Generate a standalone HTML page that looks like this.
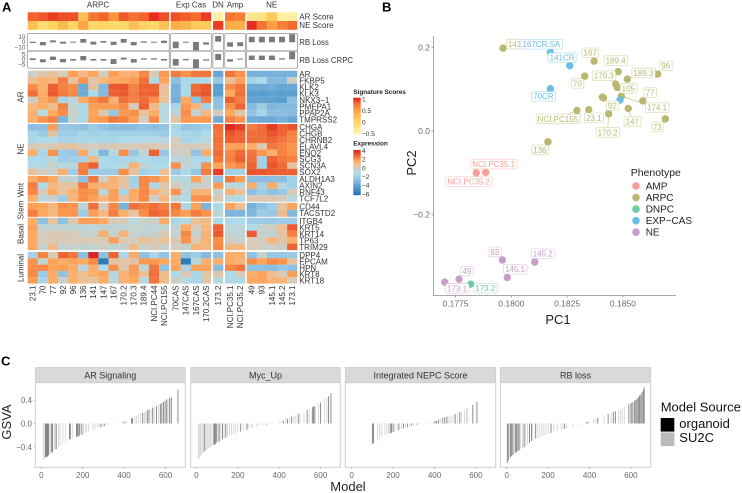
<!DOCTYPE html>
<html lang="en">
<head>
<meta charset="utf-8">
<title>Prostate cancer model signature figure</title>
<style>
html,body{margin:0;padding:0;background:#fff;}
svg{display:block;}
text{font-family:"Liberation Sans",sans-serif;}
</style>
</head>
<body>
<svg id="fig" xmlns="http://www.w3.org/2000/svg" width="742" height="493" viewBox="0 0 742 493">
<rect width="742" height="493" fill="#fff"/>
<text x="2" y="11.5" font-size="13" font-weight="bold" fill="#000">A</text>
<text x="382" y="11.5" font-size="13" font-weight="bold" fill="#000">B</text>
<text x="1" y="365.5" font-size="13" font-weight="bold" fill="#000">C</text>
</svg>
<script>
// ---------- Panel A data ----------
const sampleNames = ['23.1','70','77','92','96','136','141','147','167','170.2','170.3','189.4','NCI.PC44','NCI.PC155','70CAS','147CAS','167CAS','170.2CAS','173.2','NCI.PC35.1','NCI.PC35.2','49','93','145.1','145.2','173.1'];
const arScore = [.78,.83,.9,.85,.85,.2,.7,.78,.55,.83,.73,.78,.95,.85,.85,.8,.75,.9,-.4,.7,.65,-.25,-.2,.1,-.4,-.4];
const neScore = [.2,-.1,0,.25,0,.45,-.05,0,-.05,-.05,.2,.05,-.05,.2,.4,.3,.1,.1,.9,.4,.35,.95,.7,.5,.65,.75];
const rbLossHigh = [.6,0,3.2,.6,.6,5.8,.6,1.9,.6,5.8,0,1.3,.6,2.6,.6,.6,0,-.6,11.5,-.6,-.6,10,10,10,10,15];
const rbLossLow = [-1.9,-6.4,-.6,-3.2,-1.3,-1.3,-5,-1.3,-5.8,-1.3,-6.4,-1.3,-1.3,-1.9,-12,-1.3,-16,-5,.6,-9,-8,-.6,-.6,-.6,-.6,-.6];
const rbCrpcHigh = [1,0,2.7,.3,.3,3.3,.3,.3,.3,1.7,.3,1,1,.3,.3,.3,0,0,5.3,0,.7,3.7,3.7,3.7,1,7.7];
const rbCrpcLow = [-.7,-3,-.7,-3,-1.3,-1,-1.3,-1.3,-4.7,-.3,-3.3,-.3,-.3,-1.3,-6.3,-1,-9,-1.3,-.7,-2.3,-.3,-.7,-.7,-.7,-.3,0];
const geneGroups = ['AR','NE','Wnt','Stem','Basal','Luminal'];
const genesAR = ['AR','FKBP5','KLK2','KLK3','NKX3\u22121','PMEPA1','PPAP2A','TMPRSS2'];
const genesNE = ['CHGA','CHGB','CHRNB2','ELAVL4','ENO2','SCG3','SCN3A','SOX2'];
const genesWnt = ['ALDH1A3','AXIN2','RNF43','TCF7L2'];
const genesStem = ['CD44','TACSTD2'];
const genesBasal = ['ITGB4','KRT5','KRT14','TP63','TRIM29'];
const genesLuminal = ['DPP4','EPCAM','HPN','KRT8','KRT18'];
const exprAR = [
[-.3,.3,.6,0,1.7,.9,1.6,0,1.7,1.2,1.2,2.1,.1,1.8,2.3,1.9,2.4,2.4,-3.6,2.4,1.9,-3.2,-3.2,-3.2,-3.2,-3.2],
[.7,1.3,1,2.3,.5,1.9,.3,1.1,1.4,1.6,1.8,2.5,-1.4,1.6,-2.6,-1.4,-1.4,-1.3,-2.2,.6,1.6,-1.7,-1.2,-2.8,-2.8,-.1],
[2,1.3,2.8,2.2,2,-3.5,.6,-2.8,2.9,3,2.2,2.7,2.7,.5,-3.2,-1.4,2.6,2.9,-4,2,2.4,-3.5,-3.5,-3.3,-3.6,-3.6],
[2.5,1.4,2.9,2.3,2.1,-3.5,-1.3,-2.8,2.8,2.9,2.3,2.7,2.8,.6,-3.2,-1.4,2.7,3,-4,1.5,2.5,-4,-4,-3.8,-4,-4],
[-.1,1.5,1.8,-1.6,-.8,1.4,2,2.4,1.2,2.5,2.2,2.5,2,.5,-3.3,1.5,-2.5,2.3,-2.5,2.8,2.3,-3.8,-3.8,-3.8,-4,-2.6],
[1,1.4,.7,2.2,-.5,-1.4,1.7,1.7,1.7,2,0,2.8,.8,-.9,-1.6,1.8,1.1,-1.7,-2.5,2,2.7,-2.8,-2,-3,-2.8,-2.8],
[1.2,-1.2,1.5,2,-.2,-1.4,1.6,.3,-2.2,1.8,2,.5,1.4,-1,-.5,2,-.5,1,0,1.5,.3,-2.3,-1.5,-2.6,-2.6,-2.7],
[1.3,1.9,2.2,-3,-.5,-1.4,1.7,1.8,2.4,2.2,1.7,0,2.1,-1,.4,1.8,1.8,1.8,-3.5,2.2,1.9,-3.5,-3.5,-3.5,-3.2,-3.7]];
const exprNE = [
[-2.6,-2.6,1.7,-2.2,-2.2,-2.4,-2,-2.4,-2.7,-2.7,-2.7,-2.4,-2.6,-2.3,-1.5,-2.3,-2.2,-1.9,2.5,3.7,3.3,2.3,2.6,3.4,2.7,3],
[-1.6,-2,.4,-1.9,-1.9,-1.6,-1.8,-1.7,-1.8,-1.8,-1.8,-1.8,-1.8,-2,-1.4,-1.5,-1.8,-1.3,2.4,3,2.7,2.5,2.6,3,2.7,2.2],
[-1.5,-1.3,-1.3,-1.6,-1.6,-1.5,-1.4,-1.5,-1.5,-1.3,-1.3,-1.1,-1.1,-1,0,-1.6,-1.4,-.8,2.5,2.8,2.7,2.6,2.5,2.7,2.4,2.1],
[.1,.1,.2,.4,.5,.1,0,.1,.2,.1,.1,.2,.2,.1,.1,.1,.1,.1,2.4,1.6,1.7,1.4,.2,2.4,2.2,1.9],
[1.3,-1.5,1.9,-2,-2.2,1.5,-1,-2.9,-1,2,-2.2,-.6,2.8,-2.2,-.2,0,-2.3,1.4,2.6,2.1,2.6,2.4,1.8,1.2,2.2,1.9],
[-1.4,-1.4,-1,-1.9,-1.8,-1.7,.9,-1.4,-1.5,-1.5,-1.4,-1.3,-1.5,-1.5,-1,-.5,-1.4,-1.4,2.4,2.2,2.8,2.5,-1.7,2.7,2.4,2.2],
[-1.2,-1,-.3,-1,-.9,2.2,2.8,-1.4,-1.3,-1,1.2,-.5,-1.3,-1.3,2,-.7,-1,1.9,1.6,1.8,2.1,2.7,-1.7,3,2.6,.4],
[.5,0,-.3,1.3,-1.9,2.3,-2,-2,-2,2,.5,-1.8,-1.5,.7,-2,-1.4,-2.2,2.3,3.4,-1.8,-1.6,3,3,2.9,2.8,2.8]];
const exprWnt = [
[1.4,1.9,1.5,-.4,-.4,-2.5,2.4,-.2,1.3,.5,-1.8,2.1,1.9,1.3,-.8,-.9,1.6,-.2,-2.4,2.4,1.7,-2.6,-2.6,-2.6,-2.6,-1.7],
[2.3,-1.3,.9,.5,.5,2.4,1.3,1.2,1,.5,-1.6,2.1,-1.4,.3,.1,-.6,-.4,-.2,1.8,-.8,-.9,1.4,-1.7,1.4,-.9,-1.8],
[2.1,.1,1.4,.5,1.3,2,1.9,-.7,1.7,-1.6,1.5,2.1,1.1,.5,1.9,-.6,1.2,1.1,-.4,1.2,.6,-2.6,-1.9,-2.5,-2.2,.1],
[1.3,-.8,-.2,-2,1.1,2,1.7,1,1.7,.5,1.4,2.1,-.2,1,-.4,-1.3,1.9,2,.2,-1,-1.2,.2,.2,.2,0,-1]];
const exprStem = [
[1.7,1.6,1,2,1.9,-.7,2.5,0,2.1,-3.1,2.5,2.3,2.5,2.2,2.4,-1.5,1.6,-3,-1.4,1.6,.7,-3.2,-2.5,-1.9,.5,1.6],
[2.3,1.5,1,1.8,1.9,-2,1.7,.9,2.3,1.3,.5,2,2.7,2.5,2.1,1.7,2.3,1.9,-.5,-3,-3,-2.9,-2,-2.1,.8,-2.8]];
const exprBasal = [
[1.4,-2.5,.5,-2.5,.2,1.7,1.7,1.5,.1,.1,-1,-.3,-.2,1.4,-1.5,-1,.6,.9,-1.2,-1.4,-1.3,-2,-2,-2.1,-1.9,-2],
[1.6,-.6,-.5,-.5,-.5,-.7,-.7,-.5,-.5,-.5,-.4,-.5,-.7,-.5,-.5,1.4,.1,1,2.8,-.8,-.7,-1.2,-.4,-.1,.6,2.9],
[1.4,0,.2,.2,.1,-.3,-.3,1.3,-.4,1.1,-.5,-.4,-.3,.2,-.5,2.1,-.4,1.2,2.9,-.5,-.6,2.9,-.5,-.5,.5,2.2],
[1.5,.1,.2,.1,.2,.2,.2,.1,1.7,.2,0,.7,.3,.6,.2,1.9,.2,1.2,2,-.1,-.3,.1,.1,1,.4,1.3],
[1.5,-.4,.8,-.4,-.3,-.4,-.4,-.1,-.5,-.3,.8,-.4,.1,-.3,0,-.4,1.1,1,2.1,.9,1,.1,-.2,-.2,-.1,2.7]];
const exprLuminal = [
[-1.7,2.2,.1,2.7,2.4,-2.5,3.8,-2.5,2.7,-1.5,1.4,-2.5,-1.5,-2.3,1.3,-2.3,-2,-2.8,-2.5,1.4,1.3,-2.4,-.4,-2.1,-2.1,-2.1],
[1.9,-.5,1.6,1.4,1.6,1.5,2.1,-5.5,.5,.4,.4,1.8,1.8,1.5,1.4,-5.5,-.7,1.3,1.2,1.5,1.2,2,1.6,2.1,1.9,.5],
[2,2.1,1.6,1.7,1.4,-.9,1.3,-1.3,2,.3,1.8,-.8,2.4,-2.4,1.6,-1.6,1.6,1.6,-2.7,2.1,2.4,-2.4,-2.5,-2.6,-2.2,-2.5],
[2.1,-2,1.4,-2.4,1.2,.7,1.3,1.6,-.9,1.2,1.7,.6,2.5,.8,-1.3,.2,-1.5,.3,.3,-1.3,.1,1.3,1.6,.7,.1,1.7],
[1.7,-1.5,1.4,-.2,1.3,.7,.4,1.4,-1,1.2,1.5,-.9,2.4,.8,-.1,-1.2,-1.5,.3,-.9,-1.4,-1.4,1.5,1.6,1.1,1.1,.1]];
const rbLossTicks = [10,0,-10];
const rbCrpcTicks = [5,0,-5];
const sigLegendTicks = [1,.5,0,-.5];
const exprLegendTicks = [4,2,0,-2,-4,-6];
const phenoTitles = ['ARPC','Exp Cas','DN','Amp','NE'];

// ---------- Panel B data ----------
const pcaNames = ['141','167CR.SA','141CR','167','189.4','96','189.3','70','170.3','105','70CR','77','174.1','92','','','NCI.PC155','23.1','170.2','147','73','136','NCI.PC35.1','NCI.PC35.2','145.2','93','145.1','49','173.1','173.2'];
const pc1 = [.17963,.18175,.18262,.18371,.18479,.18656,.1852,.18329,.18468,.18475,.18175,.18589,.18493,.18408,.18413,.18487,.18294,.18347,.18436,.18524,.1869,.18164,.17885,.17843,.18105,.1796,.17982,.17766,.17702,.17818];
const pc2 = [.198,.188,.156,.167,.142,.136,.124,.131,.112,.104,.101,.072,.083,.081,.079,.074,.049,.051,.041,.054,.029,-.026,-.099,-.1,-.313,-.308,-.35,-.354,-.361,-.366];
const pcaPheno = ['ARPC','EXP\u2212CAS','EXP\u2212CAS','ARPC','ARPC','ARPC','ARPC','ARPC','ARPC','ARPC','EXP\u2212CAS','ARPC','ARPC','ARPC','ARPC','EXP\u2212CAS','ARPC','ARPC','ARPC','ARPC','ARPC','ARPC','AMP','AMP','NE','NE','NE','NE','NE','DNPC'];
const pc1Ticks = [.1775,.18,.1825,.185];
const pc2Ticks = [.2,0,-.2];
const phenotypes = ['AMP','ARPC','DNPC','EXP\u2212CAS','NE'];

// ---------- Panel C data ----------
const facetTitles = ['AR Signaling','Myc_Up','Integrated NEPC Score','RB loss'];
const modelTicks = [0,200,400,600];
const gsvaTicks = [.4,0,-.4];
const modelsAR = [10,14,20,24,28,32,36,44,50,54,62,66,72,84,90,104,118,136,140,152,170,174,178,184,190,196,204,212,220,228,250,260,272,280,288,296,304,316,330,350,380,392,400,412,436,440,452,460,470,480,490,498,505,512,520,530,538,545,556,566,575,582,590,598,606,612,620,628,660];
const gsvaAR = [-.62,-.6,-.58,-.58,-.57,-.56,-.54,-.51,-.5,-.49,-.46,-.45,-.44,-.41,-.39,-.35,-.31,-.27,-.27,-.25,-.23,-.22,-.22,-.21,-.2,-.19,-.18,-.16,-.15,-.14,-.11,-.09,-.08,-.07,-.06,-.05,-.045,-.03,-.02,-.01,.02,.03,.04,.05,.09,.1,.12,.13,.15,.17,.18,.19,.2,.23,.24,.25,.27,.28,.3,.32,.33,.35,.37,.39,.41,.42,.44,.45,.58];
const organoidAR = [0,0,1,1,1,1,1,0,1,1,0,0,1,0,0,0,0,1,1,0,1,1,1,1,0,1,0,0,0,0,0,0,0,0,1,0,1,0,0,0,0,0,1,0,1,1,0,0,0,0,1,0,0,1,1,0,1,0,1,0,1,1,1,1,1,0,1,1,1];
const modelsMyc = [10,14,20,26,32,38,44,50,56,62,68,74,84,88,92,98,104,110,118,126,134,142,150,160,170,180,190,200,214,228,244,250,264,272,290,300,320,340,368,400,410,420,430,440,450,460,470,480,492,500,520,535,545,560,566,572,590,600,618,630,638,650];
const gsvaMyc = [-.62,-.6,-.56,-.53,-.5,-.48,-.47,-.45,-.44,-.42,-.4,-.39,-.37,-.36,-.35,-.33,-.32,-.31,-.29,-.27,-.26,-.24,-.23,-.21,-.2,-.18,-.17,-.15,-.14,-.12,-.11,-.1,-.08,-.07,-.05,-.04,-.03,-.02,-.01,.03,.04,.05,.07,.08,.1,.12,.13,.15,.17,.18,.2,.23,.25,.28,.29,.3,.34,.36,.42,.45,.47,.52];
const organoidMyc = [0,0,0,0,0,1,0,0,0,0,0,0,1,1,1,1,0,1,0,1,0,1,0,0,0,0,0,0,1,0,1,0,0,0,0,0,0,1,0,0,0,1,0,1,0,1,0,0,1,0,0,1,0,1,1,1,0,1,0,0,1,1];
const modelsNEPC = [100,105,125,135,145,160,170,178,186,192,200,208,220,228,240,250,260,270,280,290,300,315,330,350,362,380,395,402,410,420,430,440,450,460,470,480,490,500,510,522,530,545,555,560,585,605];
const gsvaNEPC = [-.35,-.34,-.3,-.26,-.22,-.2,-.19,-.18,-.17,-.16,-.15,-.14,-.12,-.11,-.09,-.08,-.07,-.06,-.05,-.04,-.03,-.02,-.01,.005,.01,.02,.03,.04,.05,.07,.08,.1,.11,.12,.13,.14,.15,.16,.18,.2,.2,.23,.26,.28,.32,.37];
const organoidNEPC = [1,1,0,0,0,0,0,0,1,1,1,0,0,1,0,1,0,1,0,1,0,1,0,0,0,0,0,1,1,1,0,1,1,1,0,0,0,1,0,1,0,0,0,0,1,1];
const modelsRB = [3,8,12,18,24,30,36,42,48,54,60,66,76,84,90,100,110,120,126,140,150,160,170,180,190,200,214,228,246,262,272,280,290,320,350,385,392,420,430,440,470,490,505,515,525,540,550,560,570,590,600,606,612,618,624,630,636,642,648,654,660,664];
const gsvaRB = [-.68,-.63,-.6,-.58,-.56,-.54,-.52,-.5,-.49,-.47,-.46,-.44,-.42,-.41,-.39,-.36,-.33,-.3,-.29,-.26,-.25,-.24,-.22,-.21,-.2,-.18,-.16,-.14,-.12,-.11,-.1,-.09,-.08,-.05,-.03,.02,.03,.07,.08,.1,.14,.16,.18,.2,.21,.23,.25,.27,.29,.33,.35,.36,.38,.39,.41,.43,.45,.48,.5,.54,.58,.62];
const organoidRB = [1,1,0,1,1,1,0,1,1,1,1,0,0,1,0,0,1,1,0,1,0,0,0,0,0,0,1,0,0,0,0,1,0,0,0,1,1,0,0,1,0,1,0,1,1,0,0,0,0,1,1,1,0,1,1,1,1,1,1,1,1,1];
const sources = ['organoid','SU2C'];

// ---------- Drawing ----------
const fig = document.getElementById('fig');
const NS = 'http://www.w3.org/2000/svg';
function mk(tag, attrs, parent, txt) {
  const e = document.createElementNS(NS, tag);
  for (const k in attrs) e.setAttribute(k, attrs[k]);
  if (txt !== undefined) e.textContent = txt;
  (parent || fig).appendChild(e);
  return e;
}
function lerpColor(stops, v) {
  if (v <= stops[0][0]) return stops[0][1];
  for (let i = 1; i < stops.length; i++) {
    if (v <= stops[i][0]) {
      const t = (v - stops[i-1][0]) / (stops[i][0] - stops[i-1][0]);
      const a = stops[i-1][1], b = stops[i][1];
      const p = s => [1,3,5].map(o => parseInt(s.substr(o,2),16));
      const ca = p(a), cb = p(b);
      return 'rgb(' + ca.map((c,j) => Math.round(c + (cb[j]-c)*t)).join(',') + ')';
    }
  }
  return stops[stops.length-1][1];
}
const exprStops = [[-6,'#2171b5'],[-5.5,'#2b7bba'],[-4,'#5b9fd0'],[-3,'#7fb5dc'],[-2,'#9dcbe6'],[-1.3,'#aedbea'],[-.5,'#c0d3d3'],[0,'#d3ccbf'],[.5,'#e6c29e'],[1,'#f6b77f'],[1.5,'#fda960'],[2,'#f98e48'],[2.5,'#f1703a'],[3,'#e9552d'],[4,'#d7191c']];
const sigStops = [[-.5,'#fff6b2'],[0,'#ffd562'],[.5,'#fd9f40'],[.8,'#f2602b'],[1,'#e31a1c']];

const colW = 10.1;
const colGroups = [{x:27.7,n:14},{x:170.7,n:4},{x:213.1,n:1},{x:225,n:2},{x:246.7,n:5}];
const colX = [];
colGroups.forEach(g => { for (let i = 0; i < g.n; i++) colX.push(g.x + i * colW); });

// group titles
const titleCx = [98,191,218,235,271.7];
phenoTitles.forEach((t,i) => {
  const el = mk('text',{x:titleCx[i],y:7.5,'font-size':8,'text-anchor':'middle',fill:'#333'},fig,t);
  
  
});
// score rows
[[arScore,12.3,'AR Score'],[neScore,21,'NE Score']].forEach(r => {
  r[0].forEach((v,i) => {
    const el = mk('rect',{x:colX[i],y:r[1],width:colW+.1,height:8.8,fill:lerpColor(sigStops,v)});
    
    
  });
  const lb = mk('text',{x:299.3,y:r[1]+7,'font-size':8,fill:'#333'},fig,r[2]);
  
  
});
// RB panels
function rbPanel(top, bottom, zeroY, unit, lows, highs, ticks, label, labelY) {
  const yS = v => zeroY - v * unit;
  colGroups.forEach(g => {
    const p = mk('rect',{x:g.x-.3,y:top,width:g.n*colW+.6,height:bottom-top,rx:1.5,fill:'#fff',stroke:'#adadad','stroke-width':1});
    
    
  });
  lows.forEach((lo,i) => {
    const b = mk('rect',{x:colX[i]+2.1,y:yS(highs[i]),width:5.9,height:Math.max(.9,yS(lo)-yS(highs[i])),fill:'#7a7a7a'});
    
    
  });
  ticks.forEach(t => {
    const lb = mk('text',{x:25.5,y:yS(t)+2.2,'font-size':6.5,'text-anchor':'end',fill:'#555'},fig,String(t).replace('-','\u2212'));
    
    
  });
  const l = mk('text',{x:299.3,y:labelY,'font-size':7.8,fill:'#333'},fig,label);
  
  
}
rbPanel(33.5,50.7,42,.52,rbLossLow,rbLossHigh,rbLossTicks,'RB Loss',45);
rbPanel(51.3,68.3,59.3,1,rbCrpcLow,rbCrpcHigh,rbCrpcTicks,'RB Loss CRPC',62.8);

// heatmap
const heatBlocks = [
  {genes:genesAR,vals:exprAR,top:70.7,h:6.5,cy:97},
  {genes:genesNE,vals:exprNE,top:124,h:6.4,cy:149},
  {genes:genesWnt,vals:exprWnt,top:176,h:6.4,cy:190},
  {genes:genesStem,vals:exprStem,top:202.8,h:6.95,cy:210},
  {genes:genesBasal,vals:exprBasal,top:217.8,h:6.45,cy:234},
  {genes:genesLuminal,vals:exprLuminal,top:252,h:6.3,cy:268}
];
heatBlocks.forEach((b,bi) => {
  b.vals.forEach((row,r) => {
    row.forEach((v,c) => {
      const cell = mk('rect',{x:colX[c],y:b.top+r*b.h,width:colW+.1,height:b.h+.1,fill:lerpColor(exprStops,v)});
      
      
    });
    const gl = mk('text',{x:299.3,y:b.top+r*b.h+b.h/2+3,'font-size':8,fill:'#333'},fig,b.genes[r]);
    
    
  });
  const cy = b.cy;
  const gt = mk('text',{x:23.5,y:cy,'font-size':8,'text-anchor':'middle',fill:'#333',transform:'rotate(-90 23.5 '+cy+')'},fig,geneGroups[bi]);
  
  
});
// column labels
sampleNames.forEach((s,i) => {
  const cx = colX[i] + colW/2 + 2.8;
  const el = mk('text',{x:cx,y:285.5,'font-size':8,'text-anchor':'end',fill:'#333',transform:'rotate(-90 '+cx+' 285.5)'},fig,s);
  
  
});
// colorbars
function colorbar(title,titleY,top,bottom,stops,vmin,vmax,ticks,tickY) {
  const t = mk('text',{x:353.3,y:titleY,'font-size':6.4,'font-weight':'bold',fill:'#222'},fig,title);
  
  
  const n = 40, h = (bottom-top)/n;
  for (let i = 0; i < n; i++) {
    const v = vmax - (vmax-vmin)*(i+.5)/n;
    const r = mk('rect',{x:353.3,y:top+i*h,width:7.4,height:h+.2,fill:lerpColor(stops,v)});
    
    
  }
  ticks.forEach(v => {
    const l = mk('text',{x:362,y:tickY(v)+2.3,'font-size':6.5,fill:'#333'},fig,String(v).replace('-','\u2212').replace(/^(\u2212?)\./,'$10.'));
    
    
  });
}
colorbar('Signature Scores',94,97.7,134.3,sigStops,-.5,1,sigLegendTicks,v => 99 + (1-v)*23);
colorbar('Expression',145.7,150,195,exprStops,-6,4,exprLegendTicks,v => 150.7 + (4-v)*4.33);

// ---------- Panel B ----------
const xPC = v => 511.3 + (v - .18) * 22320;
const yPC = v => 131 - v * 418.5;
const phenoColor = {'AMP':'#f8a097','ARPC':'#b9b86f','DNPC':'#6ccfa3','EXP\u2212CAS':'#68bfe8','NE':'#c99fca'};
const pcaLabelDx = [11.5,-9,-7.7,-4,-2.6,8,16,-7.4,-12,11,-7,7.3,35.7,10,0,0,-19,5,-1,4,-8,-8,8,-7.6,8,-7.6,7.7,7.7,12.3,14.6];
const pcaLabelDy = [-4,-8,-8,-8.3,-11,-8.3,-6,7.3,-8.3,1,7.6,-8.3,11.4,8.6,0,0,8.4,8.3,18.6,13,8,8,-8.3,8.7,-8.3,-8,-8.3,-8,6.3,4];
const yAxis = mk('line',{x1:433.5,y1:36,x2:433.5,y2:295,stroke:'#a8a8a8','stroke-width':1});


const xAxis = mk('line',{x1:433,y1:295.5,x2:676,y2:295.5,stroke:'#a8a8a8','stroke-width':1});


pc2Ticks.forEach(v => {
  const tk = mk('line',{x1:431.5,x2:433.5,y1:yPC(v),y2:yPC(v),stroke:'#888','stroke-width':.8});
  
  
  const l = mk('text',{x:430,y:yPC(v)+3,'font-size':8.5,'text-anchor':'end',fill:'#6a6a6a'},fig,v.toFixed(1).replace('-','\u2212'));
  
  
});
pc1Ticks.forEach(v => {
  const tk = mk('line',{x1:xPC(v),x2:xPC(v),y1:295.5,y2:297.5,stroke:'#888','stroke-width':.8});
  
  
  const l = mk('text',{x:xPC(v),y:306.5,'font-size':8.5,'text-anchor':'middle',fill:'#6a6a6a'},fig,v.toFixed(4));
  
  
});
const pc1T = mk('text',{x:558,y:324,'font-size':13,'text-anchor':'middle',fill:'#222'},fig,'PC1');


const pc2T = mk('text',{x:416,y:163,'font-size':13,'text-anchor':'middle',fill:'#222',transform:'rotate(-90 416 163)'},fig,'PC2');


// points
pc1.forEach((v,i) => {
  const cx = xPC(v), cy = yPC(pc2[i]), col = phenoColor[pcaPheno[i]];
  const dx = pcaLabelDx[i], dy = pcaLabelDy[i];
  if (pcaNames[i] && Math.hypot(dx,dy) > 13) {
    const s = mk('line',{x1:cx,y1:cy,x2:cx+dx*.8,y2:cy+dy*.8,stroke:col,'stroke-width':.7,opacity:.8});
    
    
  }
  const p = mk('circle',{cx:cx,cy:cy,r:3.7,fill:col});
  
  
});
pc1.forEach((v,i) => {
  if (!pcaNames[i]) return;
  const col = phenoColor[pcaPheno[i]];
  const lx = xPC(v) + pcaLabelDx[i], ly = yPC(pc2[i]) + pcaLabelDy[i];
  const g = mk('g',{});
  
  
  const box = mk('rect',{fill:'#fff',stroke:col,'stroke-opacity':.45,'stroke-width':.8,rx:1.5},g);
  const t = mk('text',{x:lx,y:ly+2.9,'font-size':8,'text-anchor':'middle',fill:col},g,pcaNames[i]);
  const bb = t.getBBox();
  box.setAttribute('x', bb.x-1.5);
  box.setAttribute('y', ly-4.8);
  box.setAttribute('width', bb.width+3);
  box.setAttribute('height', 9.6);
});
const legT = mk('text',{x:630.7,y:176,'font-size':10.5,fill:'#222'},fig,'Phenotype');


phenotypes.forEach((p,i) => {
  const y = 186 + i * 11.55;
  const c = mk('circle',{cx:636,cy:y,r:3.8,fill:phenoColor[p]});
  
  
  const t = mk('text',{x:645.7,y:y+3.5,'font-size':10,fill:'#222'},fig,p);
  
  
});

// ---------- Panel C ----------
const facetSeries = [[modelsAR,gsvaAR,organoidAR],[modelsMyc,gsvaMyc,organoidMyc],[modelsNEPC,gsvaNEPC,organoidNEPC],[modelsRB,gsvaRB,organoidRB]];
const facetLeft = [35.3,190.7,345.3,500.3];
const facetRight = [185.3,340.3,495.7,650.7];
const facetZero = [41.3,196.4,351.7,506.7];
const yGS = v => 423.5 - v * 58.3;
facetTitles.forEach((title,f) => {
  const xM = m => facetZero[f] + m * .207;
  const strip = mk('rect',{x:facetLeft[f],y:367.5,width:facetRight[f]-facetLeft[f],height:15.2,fill:'#d9d9d9',stroke:'#cfcfcf','stroke-width':.8});
  
  
  const st = mk('text',{x:(facetLeft[f]+facetRight[f])/2,y:378.5,'font-size':9,'text-anchor':'middle',fill:'#333'},fig,title);
  
  
  const pan = mk('rect',{x:facetLeft[f],y:382.7,width:facetRight[f]-facetLeft[f],height:84.6,fill:'#fff',stroke:'#cfcfcf','stroke-width':1});
  
  
  const s = facetSeries[f];
  s[0].forEach((m,i) => {
    const b = mk('line',{x1:xM(m),x2:xM(m),y1:yGS(0),y2:yGS(s[1][i]),stroke:s[2][i] ? '#808080' : '#d6d6d6','stroke-width':.9});
    
    
  });
  modelTicks.forEach(t => {
    const tk = mk('line',{x1:xM(t),x2:xM(t),y1:467.3,y2:469,stroke:'#aaa','stroke-width':.7});
    
    
    const l = mk('text',{x:xM(t),y:478,'font-size':8,'text-anchor':'middle',fill:'#6a6a6a'},fig,String(t));
    
    
  });
});
gsvaTicks.forEach(v => {
  const tk = mk('line',{x1:33.5,x2:35.3,y1:yGS(v),y2:yGS(v),stroke:'#aaa','stroke-width':.7});
  
  
  const l = mk('text',{x:32,y:yGS(v)+3,'font-size':8,'text-anchor':'end',fill:'#6a6a6a'},fig,v.toFixed(1).replace('-','\u2212'));
  
  
});
const gsT = mk('text',{x:11,y:422,'font-size':13,'text-anchor':'middle',fill:'#222',transform:'rotate(-90 11 422)'},fig,'GSVA');


const mdT = mk('text',{x:348,y:491,'font-size':13,'text-anchor':'middle',fill:'#222'},fig,'Model');


const srcT = mk('text',{x:660.7,y:411.7,'font-size':13,fill:'#111'},fig,'Model Source');


sources.forEach((s,i) => {
  const r = mk('rect',{x:660.7,y:418+i*14.5,width:13.6,height:13.6,fill:i ? '#bbbbbb' : '#000'});
  
  
  const t = mk('text',{x:679.3,y:428+i*14.2,'font-size':13,fill:'#111'},fig,s);
  
  
});
</script>
</body>
</html>
